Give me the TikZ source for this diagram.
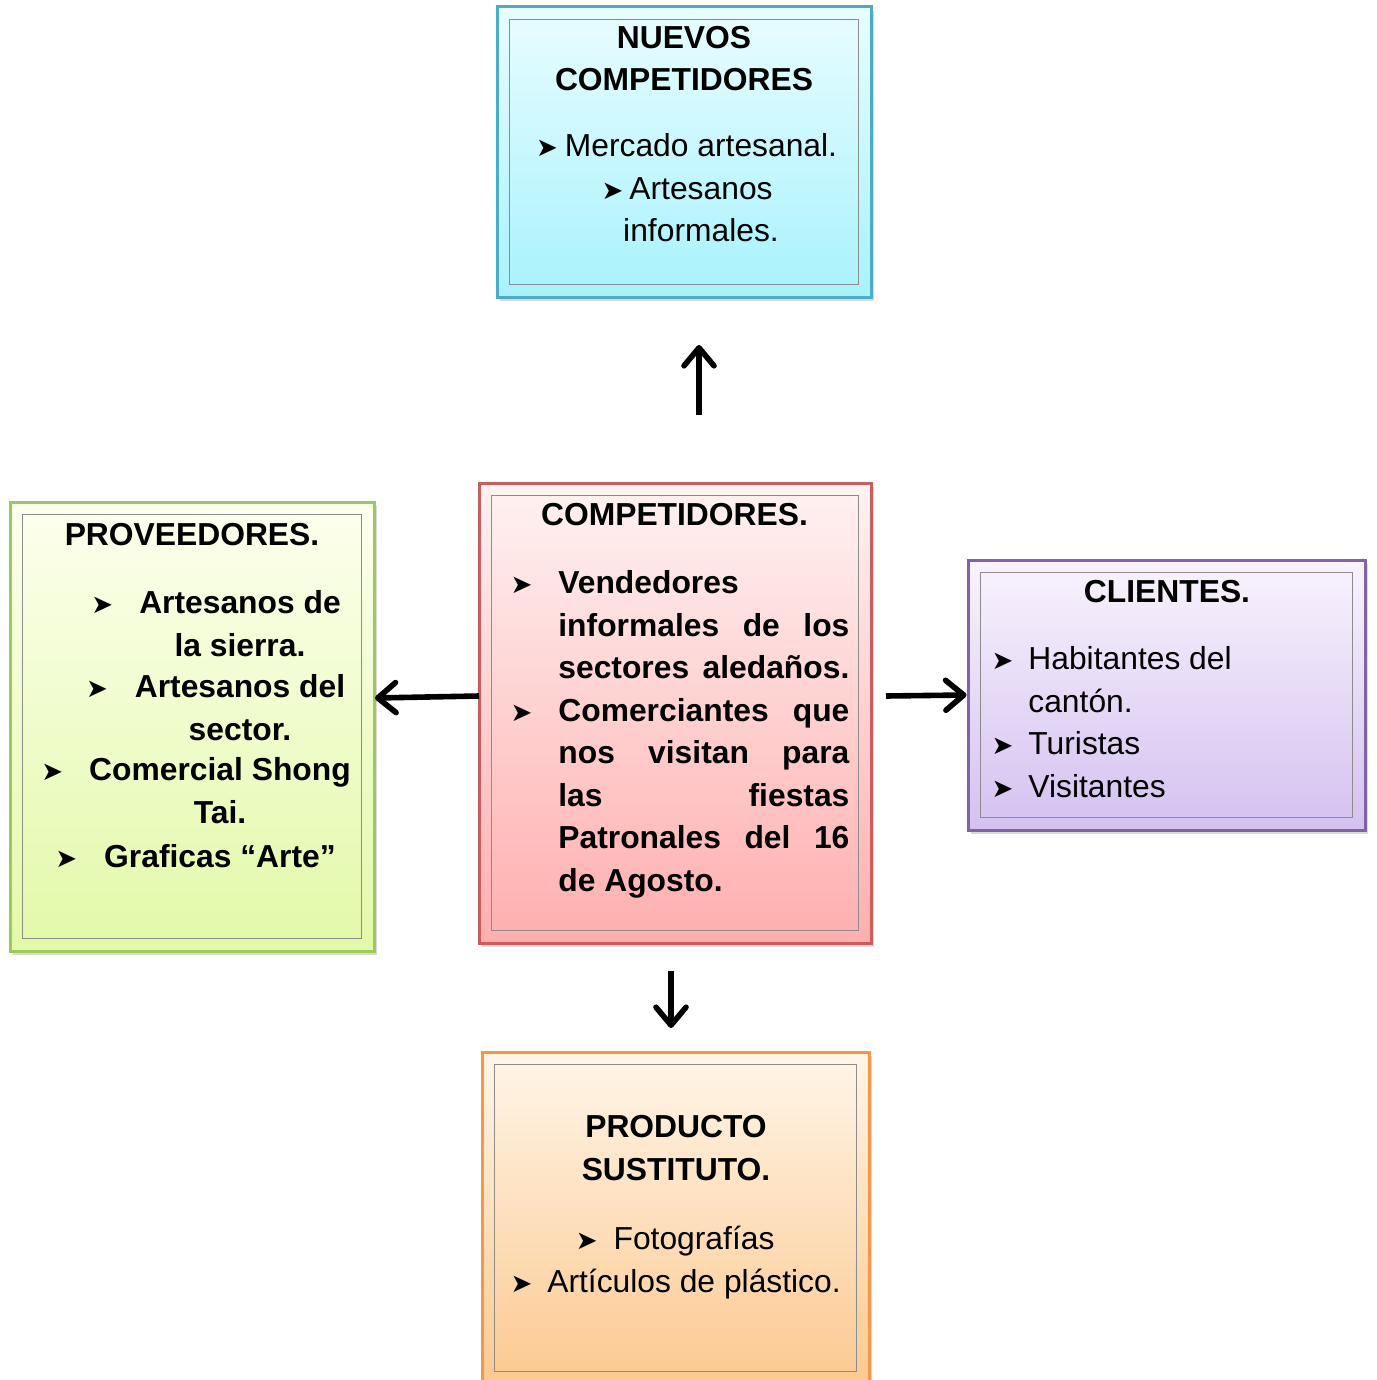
\documentclass[tikz,border=0pt]{standalone}
\usepackage{fontspec}
\setmainfont{Liberation Sans}
\newfontfamily\dingfont{DejaVu Sans}
\usetikzlibrary{arrows.meta,shadows}

\definecolor{aqualine}{HTML}{4BACC6}
\definecolor{aquatop}{HTML}{E8FDFF}
\definecolor{aquabot}{HTML}{A8F2FD}
\definecolor{limeline}{HTML}{9BC95A}
\definecolor{limetop}{HTML}{FDFFEE}
\definecolor{limebot}{HTML}{E2F9A8}
\definecolor{roseline}{HTML}{CD5C5C}
\definecolor{rosetop}{HTML}{FFF2F2}
\definecolor{rosebot}{HTML}{FFAEAE}
\definecolor{lilacline}{HTML}{8064A2}
\definecolor{lilactop}{HTML}{F9F3FD}
\definecolor{lilacbot}{HTML}{D4C1F0}
\definecolor{peachline}{HTML}{F79646}
\definecolor{peachtop}{HTML}{FFF5E8}
\definecolor{peachbot}{HTML}{FCC990}

\newcommand{\bul}[1]{\llap{{\dingfont\fontsize{13}{13}\selectfont ➤}\hspace{#1}}}

\begin{document}
\begin{tikzpicture}[x=0.5pt,y=-0.5pt,
  >={Straight Barb[length=9pt,width=15pt,round]},
  every node/.style={font=\fontsize{15.9}{21.25}\selectfont},
  box/.style={draw=#1line, line width=1.5pt, top color=#1top, bottom color=#1bot,
    drop shadow={shadow xshift=1.5pt, shadow yshift=-2pt, opacity=0.3}, inner sep=0pt},
  frame/.style={draw=black!45, line width=0.7pt},
  title/.style={font=\fontsize{15.9}{21.25}\selectfont\bfseries, align=center, anchor=base},
  list/.style={align=center, anchor=base},
  conn/.style={line width=2.8pt, ->}]
\useasboundingbox (0,0) rectangle (1376,1380);

% boxes
\node[box=aqua,  minimum width=187pt,   minimum height=145pt]   (nuevos) at (684,152)    {};
\node[box=lime,  minimum width=182pt,   minimum height=224.5pt] (prov)   at (192,726.5)  {};
\node[box=rose,  minimum width=196pt,   minimum height=230pt]   (comp)   at (675,713)    {};
\node[box=lilac, minimum width=198.5pt, minimum height=135pt]   (clie)   at (1166.5,695) {};
\node[box=peach, minimum width=193.5pt, minimum height=166pt]   (prod)   at (675.5,1218) {};
\foreach \b in {nuevos,prov,comp,clie,prod}
  \draw[frame] ([shift={(14,14)}]\b.north west) rectangle ([shift={(-14,-14)}]\b.south east);

% nuevos competidores (base = last line)
\node[title] (nuevostit) at (684,91) {NUEVOS\\COMPETIDORES};
\node[list] (nuevoslst) at (701,242) {\bul{3.5pt}Mercado artesanal.\\\bul{3pt}Artesanos\\informales.};

% proveedores
\node[title] (provtit) at (192,545) {PROVEEDORES.};
\node[list,font=\fontsize{15.9}{21.25}\selectfont\bfseries] (prov1) at (240,656) {\bul{13pt}Artesanos de\\la sierra.};
\node[list,font=\fontsize{15.9}{21.25}\selectfont\bfseries] (prov2) at (240,740) {\bul{13.5pt}Artesanos del\\sector.};
\node[list,font=\fontsize{15.9}{21.25}\selectfont\bfseries] (prov3) at (220,823) {\bul{13pt}Comercial Shong\\Tai.};
\node[list,font=\fontsize{15.9}{21.25}\selectfont\bfseries] (prov4) at (220,867) {\bul{13.5pt}Graficas “Arte”};

% competidores
\node[title] (comptit) at (674.5,525) {COMPETIDORES.};
\node[align=left, anchor=base west, inner sep=0pt, font=\fontsize{15.9}{21.25}\selectfont\bfseries] (complst) at (558,891)
  {\bul{13pt}Vendedores\\
   \makebox[145.5pt][s]{informales de los}\\
   \makebox[145.5pt][s]{sectores aledaños.}\\
   \bul{13pt}\makebox[145.5pt][s]{Comerciantes que}\\
   \makebox[145.5pt][s]{nos visitan para}\\
   \makebox[145.5pt][s]{las fiestas}\\
   \makebox[145.5pt][s]{Patronales del 16}\\
   de Agosto.};

% clientes
\node[title] (clietit) at (1167,602) {CLIENTES.};
\node[align=left, anchor=base west, inner sep=0pt] (clielst) at (1028,797)
  {\bul{7.5pt}Habitantes del\\cantón.\\\bul{7.5pt}Turistas\\\bul{7.5pt}Visitantes};

% producto sustituto
\node[title] (prodtit) at (676,1180) {PRODUCTO\\SUSTITUTO.};
\node[list] (prodlst) at (694,1292) {\bul{8pt}Fotografías\\\bul{7.5pt}Artículos de plástico.};

% connectors
\coordinate (upA) at (699,415);   \coordinate (upB) at (699,345);
\coordinate (lfA) at (479,696);   \coordinate (lfB) at (375,698);
\coordinate (rtA) at (886,696);
\coordinate (dnA) at (671,971);   \coordinate (dnB) at (671,1028);
\draw[conn] (upA) -- (upB);
\draw[conn] (lfA) -- (lfB);
\draw[conn] (rtA) -- (clie.west);
\draw[conn] (dnA) -- (dnB);
\end{tikzpicture}
\end{document}
